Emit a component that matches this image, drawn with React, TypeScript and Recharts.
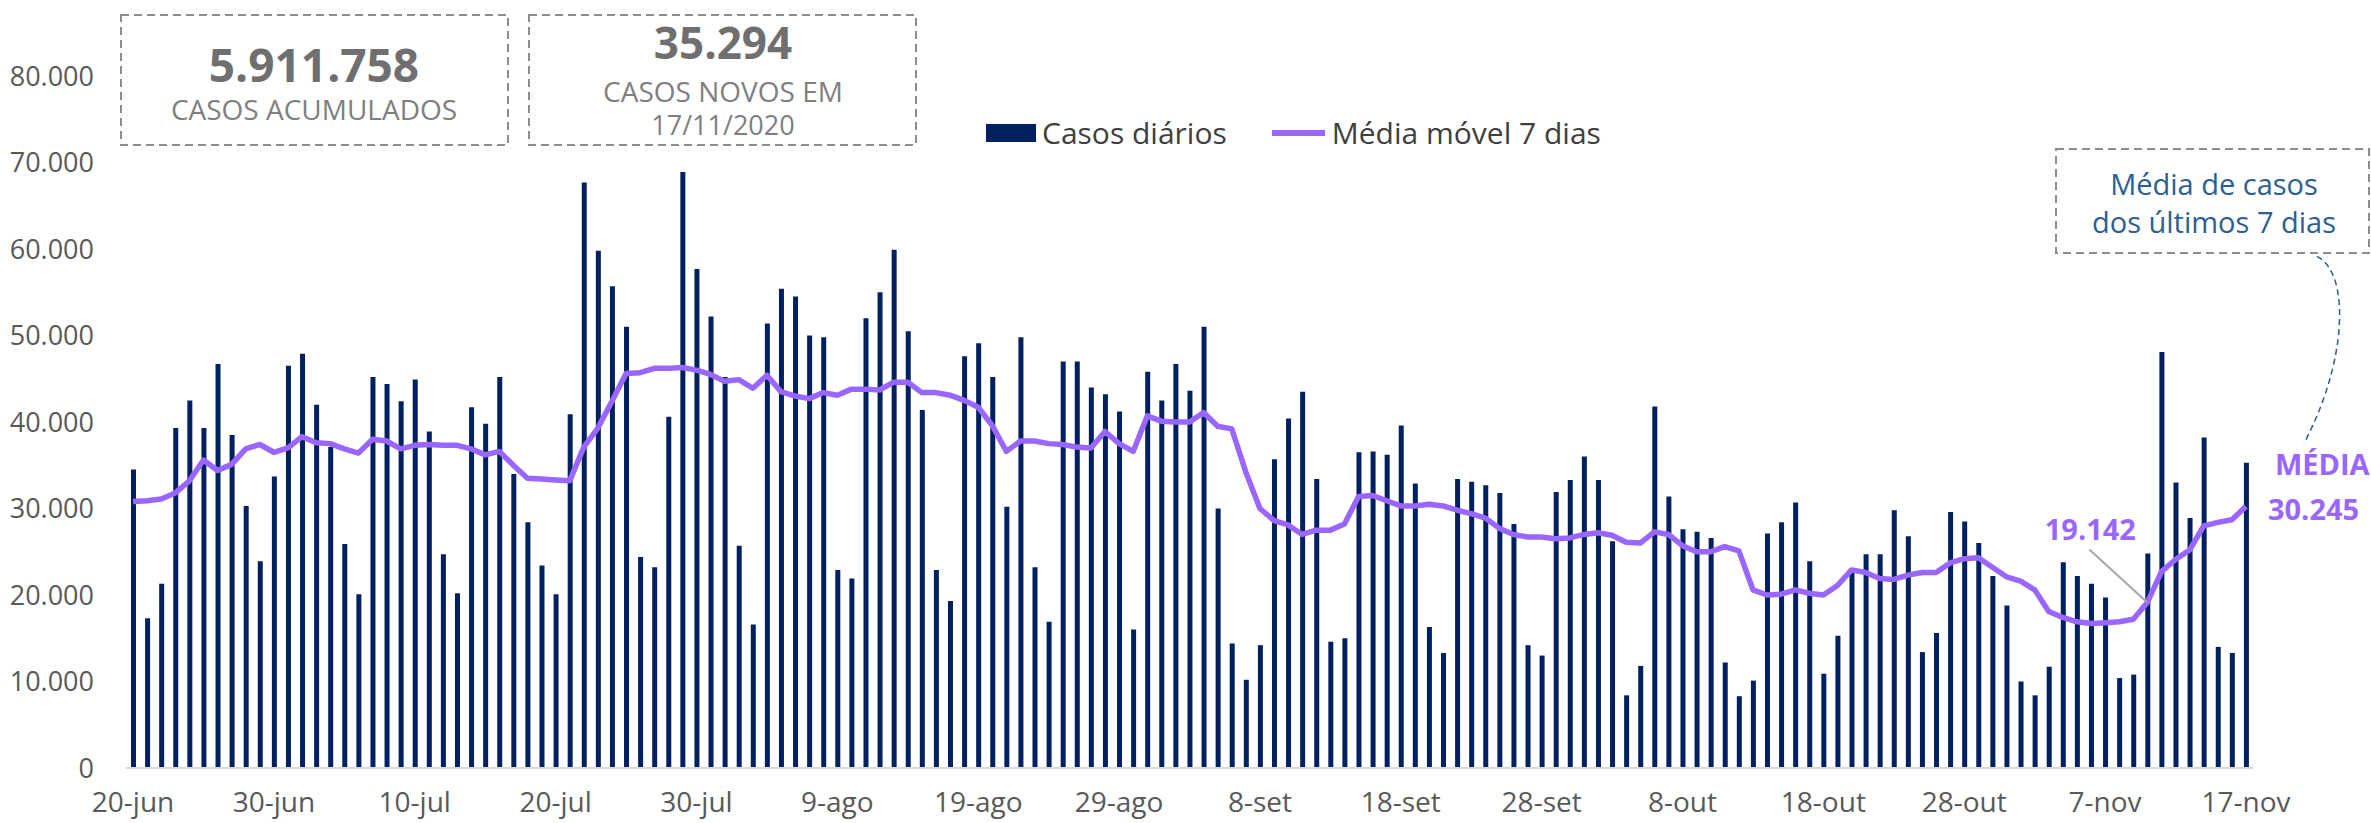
import React from 'react';
import { ComposedChart, Bar, Line, XAxis, YAxis, Legend, LabelList } from 'recharts';

const dates = [
  '20-jun','21-jun','22-jun','23-jun','24-jun','25-jun','26-jun','27-jun','28-jun','29-jun','30-jun',
  '1-jul','2-jul','3-jul','4-jul','5-jul','6-jul','7-jul','8-jul','9-jul','10-jul','11-jul','12-jul','13-jul','14-jul','15-jul','16-jul','17-jul','18-jul','19-jul','20-jul','21-jul','22-jul','23-jul','24-jul','25-jul','26-jul','27-jul','28-jul','29-jul','30-jul','31-jul',
  '1-ago','2-ago','3-ago','4-ago','5-ago','6-ago','7-ago','8-ago','9-ago','10-ago','11-ago','12-ago','13-ago','14-ago','15-ago','16-ago','17-ago','18-ago','19-ago','20-ago','21-ago','22-ago','23-ago','24-ago','25-ago','26-ago','27-ago','28-ago','29-ago','30-ago','31-ago',
  '1-set','2-set','3-set','4-set','5-set','6-set','7-set','8-set','9-set','10-set','11-set','12-set','13-set','14-set','15-set','16-set','17-set','18-set','19-set','20-set','21-set','22-set','23-set','24-set','25-set','26-set','27-set','28-set','29-set','30-set',
  '1-out','2-out','3-out','4-out','5-out','6-out','7-out','8-out','9-out','10-out','11-out','12-out','13-out','14-out','15-out','16-out','17-out','18-out','19-out','20-out','21-out','22-out','23-out','24-out','25-out','26-out','27-out','28-out','29-out','30-out','31-out',
  '1-nov','2-nov','3-nov','4-nov','5-nov','6-nov','7-nov','8-nov','9-nov','10-nov','11-nov','12-nov','13-nov','14-nov','15-nov','16-nov','17-nov',
];

const dailyCases = [
  34500, 17300, 21300, 39300, 42500, 39300, 46700, 38500, 30300, 23900, 33700,
  46500, 47900, 42000, 37100, 25900, 20100, 45200, 44400, 42400, 44900, 38900, 24700, 20200, 41700, 39800,
  45200, 34000, 28400, 23400, 20100, 40900, 67700, 59800, 55700, 51000, 24400, 23200, 40600, 68900, 57700, 52200,
  45200, 25700, 16600, 51400, 55400, 54500, 50000, 49800, 22900, 21900, 52000, 55000, 59900, 50500, 41400, 22900,
  19300, 47600, 49100, 45200, 30200, 49800, 23200, 16900, 47000, 47000, 44000, 43200, 41200, 16000, 45800,
  42500, 46700, 43600, 51000, 30000, 14400, 10200, 14200, 35700, 40400, 43500, 33400, 14600, 15000, 36500,
  36600, 36200, 39600, 32900, 16300, 13300, 33400, 33100, 32700, 31800, 28200, 14200, 13000, 31900, 33300,
  36000, 33300, 26200, 8400, 11800, 41800, 31400, 27600, 27300, 26600, 12200, 8300, 10100, 27100, 28400,
  30700, 23900, 10900, 15300, 23000, 24700, 24700, 29800, 26800, 13400, 15600, 29600, 28500, 26000, 22200, 18800,
  10000, 8400, 11700, 23800, 22200, 21300, 19700, 10400, 10800, 24800, 48100, 33000, 28900, 38200, 14000, 13300, 35294,
];

const movingAvg = [
  30800, 30900, 31100, 31800, 33200, 35600, 34400, 35100, 36900, 37400, 36500,
  37000, 38300, 37600, 37500, 36900, 36400, 38000, 37800, 36900, 37300, 37400, 37300, 37300, 36900, 36200,
  36600, 35000, 33500, 33400, 33300, 33200, 37100, 39300, 42400, 45600, 45700, 46200, 46200, 46300, 46000, 45500,
  44700, 44900, 43900, 45400, 43500, 43000, 42700, 43400, 43100, 43800, 43800, 43700, 44600, 44600, 43400, 43400,
  43100, 42500, 41700, 39600, 36600, 37800, 37800, 37500, 37400, 37100, 37000, 38900, 37500, 36600, 40700,
  40100, 40000, 40000, 41100, 39500, 39200, 34200, 30000, 28600, 28100, 27000, 27500, 27500, 28200, 31400,
  31500, 30900, 30300, 30300, 30500, 30300, 29800, 29400, 28900, 27700, 27000, 26700, 26700, 26500, 26600,
  27000, 27200, 26900, 26100, 26000, 27300, 27000, 25700, 25000, 25000, 25600, 25100, 20600, 20000, 20100,
  20600, 20200, 20000, 21100, 22900, 22600, 21900, 21800, 22300, 22600, 22600, 23700, 24200, 24300, 23200, 22100,
  21600, 20600, 18100, 17400, 16900, 16700, 16800, 16900, 17200, 19142, 22700, 24100, 25200, 28000, 28400, 28700, 30245,
];

const xTicks = ['20-jun','30-jun','10-jul','20-jul','30-jul','9-ago','19-ago','29-ago','8-set','18-set','28-set','8-out','18-out','28-out','7-nov','17-nov'];
const yTicks = [0, 10000, 20000, 30000, 40000, 50000, 60000, 70000, 80000];

const totalCases = 5911758;
const newCasesLastDay = 35294;
const lastDateLabel = '17/11/2020';
const lowIndex = 143;

const data = dates.map((d, i) => ({ date: d, cases: dailyCases[i], avg: movingAvg[i] }));
const lastIndex = data.length - 1;

const FONT = '"Open Sans", "Noto Sans", sans-serif';
const BAR_COLOR = '#002060';
const LINE_COLOR = '#9966FF';
const ANNOT_BLUE = '#2C5F93';

const fmt = (v: number) => String(Math.round(v)).replace(/\B(?=(\d{3})+(?!\d))/g, '.');

const renderLineLabel = (props: any) => {
  const { x, y, index, value } = props;
  if (index === lowIndex) {
    return (
      <g>
        <line x1={x - 58} y1={y - 53} x2={x} y2={y} stroke="#a6a6a6" strokeWidth={2} />
        <text x={x - 57} y={y - 74} textAnchor="middle" dominantBaseline="central"
          fontFamily={FONT} fontWeight={700} fontSize={29} fill={LINE_COLOR}>{fmt(value)}</text>
      </g>
    );
  }
  if (index === lastIndex) {
    return (
      <g>
        <path d={`M ${x + 71} ${y - 250} C ${x + 104} ${y - 234}, ${x + 102} ${y - 146}, ${x + 58} ${y - 63}`}
          fill="none" stroke={ANNOT_BLUE} strokeWidth={1.5} strokeDasharray="6 4" />
        <text x={x + 29} y={y - 43} textAnchor="start" dominantBaseline="central"
          fontFamily={FONT} fontWeight={700} fontSize={29} fill={LINE_COLOR}>MÉDIA</text>
        <text x={x + 22} y={y + 2} textAnchor="start" dominantBaseline="central"
          fontFamily={FONT} fontWeight={700} fontSize={29} fill={LINE_COLOR}>{fmt(value)}</text>
      </g>
    );
  }
  return null;
};

const renderLegend = () => (
  <div style={{ display: 'flex', alignItems: 'center', fontFamily: FONT, fontSize: 30, color: '#404040', whiteSpace: 'nowrap', lineHeight: '40px' }}>
    <span style={{ display: 'inline-block', width: 50, height: 18, background: BAR_COLOR, marginRight: 6 }} />
    <span>Casos diários</span>
    <span style={{ display: 'inline-block', width: 53, height: 6, background: LINE_COLOR, marginLeft: 45, marginRight: 7 }} />
    <span>Média móvel 7 dias</span>
  </div>
);

const Box = ({ x, y, w, h }: { x: number; y: number; w: number; h: number }) => (
  <rect x={x} y={y} width={w} height={h} fill="none" stroke="#8c8c8c" strokeWidth={2} strokeDasharray="8 5" />
);

export default function App() {
  return (
    <div style={{ position: 'absolute', left: 0, top: 0, width: 2371, height: 823, overflow: 'hidden', background: '#fff' }}>
      <ComposedChart width={2371} height={823} data={data} margin={{ top: 76, right: 118, bottom: 5, left: 0 }}>
        <XAxis dataKey="date" ticks={xTicks} interval={0} tickLine={false} tickSize={0} tickMargin={24}
          axisLine={{ stroke: '#d9d9d9', strokeWidth: 2 }} height={50}
          tick={{ fill: '#595959', fontSize: 28, fontFamily: FONT }} />
        <YAxis domain={[0, 80000]} ticks={yTicks} interval={0} tickFormatter={fmt} width={126}
          axisLine={false} tickLine={false} tickSize={0} tickMargin={32}
          tick={{ fill: '#595959', fontSize: 27, fontFamily: FONT }} />
        <Legend layout="horizontal" verticalAlign="middle" align="center" content={renderLegend}
          wrapperStyle={{ position: 'absolute', left: 986, top: 113, width: 'auto', height: 40 }} />
        <Bar dataKey="cases" name="Casos diários" fill={BAR_COLOR} barSize={5} isAnimationActive={false} />
        <Line dataKey="avg" name="Média móvel 7 dias" type="linear" stroke={LINE_COLOR} strokeWidth={5.5}
          dot={false} activeDot={false} strokeLinejoin="round" isAnimationActive={false}>
          <LabelList dataKey="avg" content={renderLineLabel} />
        </Line>
      </ComposedChart>
      <svg width={2371} height={823} style={{ position: 'absolute', left: 0, top: 0, pointerEvents: 'none' }}>
        <Box x={121} y={15} w={387} h={130} />
        <text x={314} y={64} textAnchor="middle" dominantBaseline="central" fontFamily={FONT} fontWeight={700} fontSize={46} fill="#6f6f6f">{fmt(totalCases)}</text>
        <text x={314} y={109} textAnchor="middle" dominantBaseline="central" fontFamily={FONT} fontSize={28} fill="#7f7f7f">CASOS ACUMULADOS</text>
        <Box x={529} y={15} w={387} h={130} />
        <text x={723} y={42} textAnchor="middle" dominantBaseline="central" fontFamily={FONT} fontWeight={700} fontSize={44} fill="#6f6f6f">{fmt(newCasesLastDay)}</text>
        <text x={723} y={91} textAnchor="middle" dominantBaseline="central" fontFamily={FONT} fontSize={28} fill="#7f7f7f">CASOS NOVOS EM</text>
        <text x={723} y={124} textAnchor="middle" dominantBaseline="central" fontFamily={FONT} fontSize={27} fill="#7f7f7f">{lastDateLabel}</text>
        <Box x={2056} y={149} w={313} h={104} />
        <text x={2214} y={183} textAnchor="middle" dominantBaseline="central" fontFamily={FONT} fontSize={29} fill={ANNOT_BLUE}>Média de casos</text>
        <text x={2214} y={221} textAnchor="middle" dominantBaseline="central" fontFamily={FONT} fontSize={29} fill={ANNOT_BLUE}>dos últimos 7 dias</text>
      </svg>
    </div>
  );
}
